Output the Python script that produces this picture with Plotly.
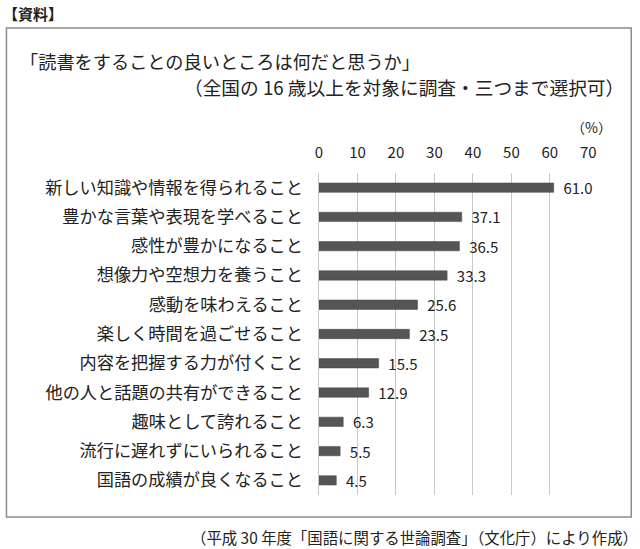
import plotly.graph_objects as go

categories = [
    "新しい知識や情報を得られること",
    "豊かな言葉や表現を学べること",
    "感性が豊かになること",
    "想像力や空想力を養うこと",
    "感動を味わえること",
    "楽しく時間を過ごせること",
    "内容を把握する力が付くこと",
    "他の人と話題の共有ができること",
    "趣味として誇れること",
    "流行に遅れずにいられること",
    "国語の成績が良くなること",
]
values = [61.0, 37.1, 36.5, 33.3, 25.6, 23.5, 15.5, 12.9, 6.3, 5.5, 4.5]
tick_vals = [0, 10, 20, 30, 40, 50, 60, 70]

W, H = 640, 549
FONT = "Noto Sans CJK JP"
TXT = "#222222"

def px(x):
    return x / W

def py(y):
    return 1 - y / H

fig = go.Figure()
fig.add_trace(go.Bar(
    x=values,
    y=categories,
    orientation="h",
    width=0.32,
    marker=dict(color="#555555", line=dict(color="#444444", width=0.5)),
    text=["\u00a0\u00a0" + f"{v:.1f}" for v in values],
    textposition="outside",
    constraintext="none",
    cliponaxis=False,
    textfont=dict(family=FONT, size=15, color=TXT),
    hoverinfo="skip",
))

fig.update_layout(
    width=W, height=H,
    autosize=False,
    margin=dict(l=0, r=0, t=0, b=0),
    paper_bgcolor="white",
    plot_bgcolor="white",
    showlegend=False,
    font=dict(family=FONT, color=TXT),
    xaxis=dict(
        domain=[px(321), px(595.5)],
        range=[0, 70],
        side="top",
        tickvals=tick_vals,
        ticktext=[str(t) for t in tick_vals],
        tickfont=dict(family=FONT, size=15, color=TXT),
        showgrid=True,
        gridcolor="#c8c8c8",
        gridwidth=1,
        zeroline=True,
        zerolinecolor="#c8c8c8",
        zerolinewidth=1,
        showline=False,
        ticks="",
        ticklabelstandoff=11,
        fixedrange=True,
    ),
    yaxis=dict(
        domain=[py(495), py(173)],
        autorange="reversed",
        tickfont=dict(family=FONT, size=17.2, color=TXT),
        showgrid=False,
        zeroline=False,
        showline=False,
        ticks="",
        ticklabelstandoff=15,
        fixedrange=True,
    ),
    bargap=0.68,
)

# outer frame
fig.add_shape(type="rect", xref="paper", yref="paper",
              x0=px(2.5), x1=px(639.2), y0=py(517), y1=py(28),
              line=dict(color="#8c8c8c", width=1.5), fillcolor="rgba(0,0,0,0)",
              layer="below")

anns = [
    dict(text="<b>【資料】</b>", x=px(-3), y=py(14), xanchor="left", size=15),
    dict(text="「読書をすることの良いところは何だと思うか」", x=px(14), y=py(61), xanchor="left", size=18.2),
    dict(text="（全国の 16 歳以上を対象に調査・三つまで選択可）", x=px(634), y=py(87), xanchor="right", size=18.7),
    dict(text="（%）", x=px(622), y=py(127), xanchor="right", size=14),
    dict(text="（平成 30 年度「国語に関する世論調査」（文化庁）により作成）", x=px(648), y=py(537), xanchor="right", size=15.4),
]
for a in anns:
    fig.add_annotation(text=a["text"], x=a["x"], y=a["y"], xref="paper", yref="paper",
                       xanchor=a["xanchor"], yanchor="middle", showarrow=False,
                       font=dict(family=FONT, size=a["size"], color=TXT))

fig.write_html("out.html",
               config={"displayModeBar": False, "responsive": False},
               post_script="document.documentElement.style.overflow='hidden';document.body.style.margin='0';document.body.style.overflow='hidden';")
